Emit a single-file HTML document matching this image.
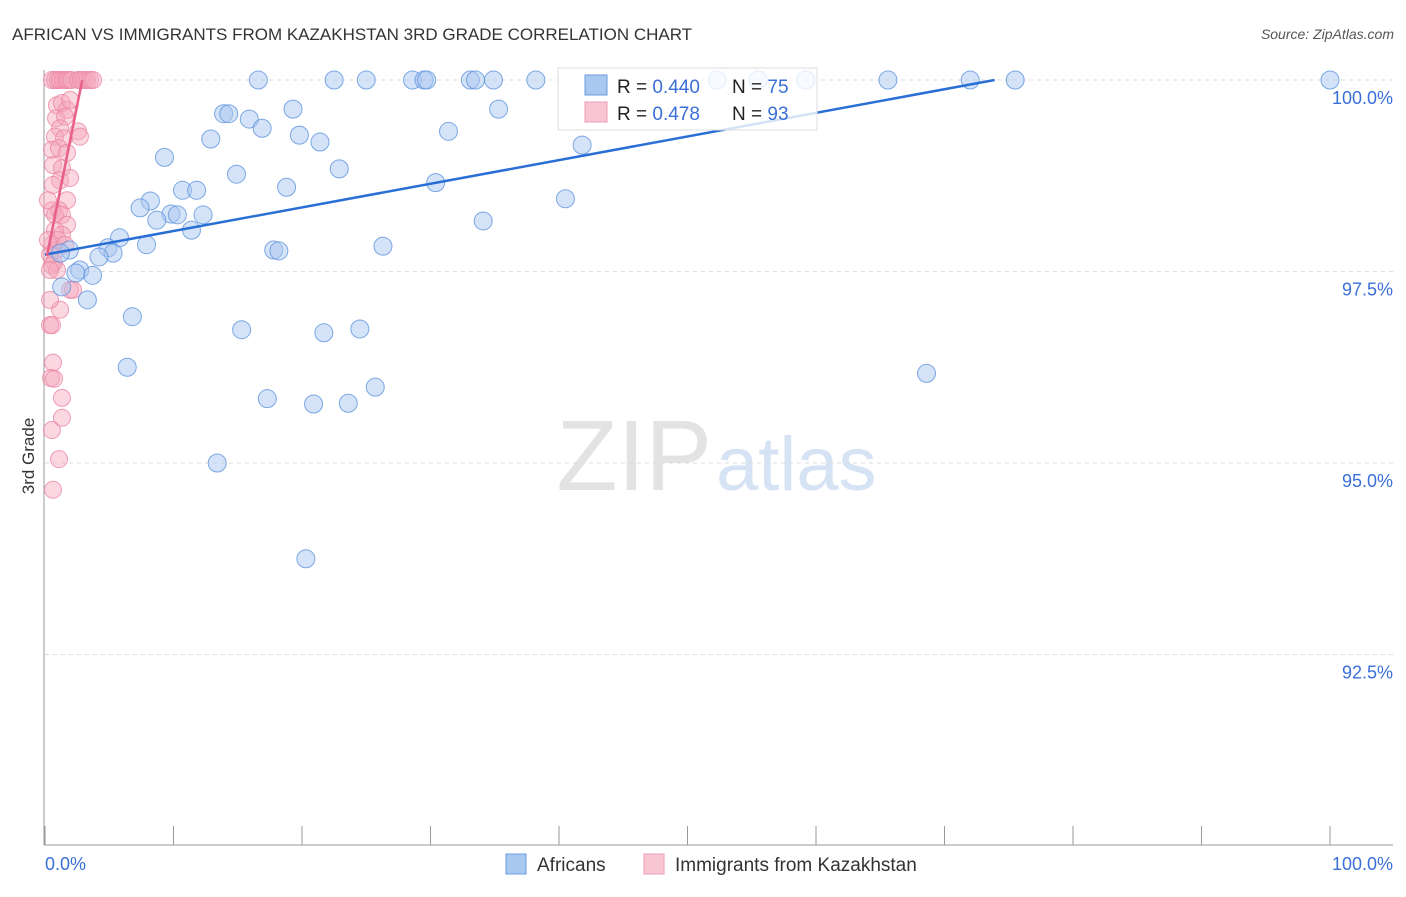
<!DOCTYPE html>
<html><head><meta charset="utf-8"><style>
body{margin:0;background:#fff;font-family:"Liberation Sans",sans-serif}
svg text{font-family:"Liberation Sans",sans-serif}
</style></head><body>
<svg width="1406" height="892" xmlns="http://www.w3.org/2000/svg">
<text x="12" y="40" font-size="17" fill="#333">AFRICAN VS IMMIGRANTS FROM KAZAKHSTAN 3RD GRADE CORRELATION CHART</text>
<text x="1394" y="39" font-size="14" fill="#555" font-style="italic" text-anchor="end">Source: ZipAtlas.com</text>
<text x="712" y="490" font-size="100" fill="#e3e3e3" text-anchor="end" font-family="Liberation Serif">ZIP</text>
<text x="716" y="490" font-size="76" fill="#d5e3f5">atlas</text>
<g id="grid"></g>
<g id="axes"></g>
<g id="pts"></g>
<g id="lines"></g>
<text x="34" y="456" font-size="17" fill="#333" text-anchor="middle" transform="rotate(-90 34 456)">3rd Grade</text>
<g>
<rect x="558" y="68" width="259" height="62" fill="#fff" fill-opacity="0.8" stroke="#ddd"/>
<rect x="585" y="75" width="22" height="20" fill="#a9c8f0" stroke="#6b9be0"/>
<rect x="585" y="102" width="22" height="20" fill="#f8c6d3" stroke="#ee9db4"/>
<text x="617" y="93" font-size="19" fill="#222">R = <tspan fill="#3a6fd8">0.440</tspan></text>
<text x="732" y="93" font-size="19" fill="#222">N = <tspan fill="#3a6fd8">75</tspan></text>
<text x="617" y="120" font-size="19" fill="#222">R = <tspan fill="#3a6fd8"> 0.478</tspan></text>
<text x="732" y="120" font-size="19" fill="#222">N = <tspan fill="#3a6fd8">93</tspan></text>
</g>
<g>
<rect x="506" y="854" width="20" height="20" fill="#a9c8f0" stroke="#6b9be0"/>
<text x="537" y="871" font-size="19" fill="#333">Africans</text>
<rect x="644" y="854" width="20" height="20" fill="#f8c6d3" stroke="#ee9db4"/>
<text x="675" y="871" font-size="19" fill="#333">Immigrants from Kazakhstan</text>
</g>
</svg>
<script>
const blueX=[16.6,22.5,25.0,28.6,29.5,29.7,33.1,33.5,34.9,38.2,42.9,52.3,55.5,59.2,65.6,72.0,75.5,100,13.9,14.3,15.9,16.9,19.3,12.9,19.8,21.4,9.3,14.9,22.9,31.4,35.3,41.8,18.8,10.7,11.8,8.2,7.4,40.5,30.4,9.8,8.7,10.3,12.3,11.4,34.1,5.8,4.9,7.9,5.3,4.2,1.9,1.2,17.8,18.2,26.3,2.7,3.7,2.4,1.3,3.3,6.8,15.3,21.7,24.5,6.4,17.3,20.9,23.6,25.7,13.4,20.3,68.6];
const blueY=[100,100,100,100,100,100,100,100,100,100,99.95,100,100,100,100,100,100,100,99.56,99.56,99.49,99.37,99.62,99.23,99.28,99.19,98.99,98.77,98.84,99.33,99.62,99.15,98.60,98.56,98.56,98.42,98.33,98.45,98.66,98.25,98.17,98.24,98.24,98.04,98.16,97.94,97.81,97.85,97.74,97.69,97.78,97.74,97.78,97.77,97.83,97.52,97.45,97.48,97.30,97.13,96.91,96.74,96.70,96.75,96.25,95.84,95.77,95.78,95.99,95.0,93.75,96.17];
const pinkX=[0.54,0.78,1.0,1.17,1.4,1.63,1.79,2.02,2.57,2.8,3.04,3.27,3.5,3.74,0.93,1.32,1.71,0.86,1.56,1.95,1.17,0.78,1.48,2.57,2.72,0.54,1.09,1.71,0.62,1.32,1.17,0.62,1.71,1.09,0.54,0.78,1.32,1.71,0.78,1.32,0.54,0.86,0.39,0.7,0.54,0.93,1.95,1.17,0.39,0.54,0.62,0.47,0.7,1.32,1.32,0.54,1.09,0.62,0.39,0.23,0.23,0.39,1.0,1.56,1.95,2.18];
const pinkY=[100,100,100,100,100,100,100,100,100,100,100,100,100,100,99.67,99.70,99.61,99.50,99.52,99.74,99.37,99.26,99.24,99.33,99.26,99.09,99.11,99.05,98.89,98.85,98.69,98.63,98.43,98.30,98.30,98.24,98.24,98.11,98.04,97.98,97.85,97.78,97.72,97.62,97.58,97.52,97.26,97.0,96.80,96.80,96.31,96.11,96.10,95.85,95.59,95.43,95.05,94.65,97.13,98.43,97.91,97.52,97.91,97.85,98.72,97.26];
const blueTrend=[[0,97.72],[73.9,100]];
const pinkTrend=[[0.15,97.7],[2.9,100]];
const yTicks=[100,97.5,95,92.5];
const yLabels=["100.0%","97.5%","95.0%","92.5%"];
const NS="http://www.w3.org/2000/svg";
const sx=v=>45+v*12.85, sy=v=>80+(100-v)*76.6;
function mk(t,a,p){const e=document.createElementNS(NS,t);for(const k in a)e.setAttribute(k,a[k]);p.appendChild(e);return e;}
const grid=document.getElementById('grid'),axes=document.getElementById('axes'),pts=document.getElementById('pts'),lines=document.getElementById('lines');
yTicks.forEach((t,i)=>{
 const l=mk('line',{x1:45,x2:1393,y1:sy(t),y2:sy(t),stroke:'#ddd','stroke-dasharray':'4 4'},grid);
 
 
 const tx=mk('text',{x:1393,y:sy(t)+24,'font-size':18,fill:'#3a6fd8','text-anchor':'end'},axes);tx.textContent=yLabels[i];
 
 
});
mk('line',{x1:44,x2:44,y1:70,y2:845,stroke:'#999'},axes);
mk('line',{x1:44,x2:1393,y1:845,y2:845,stroke:'#999'},axes);
for(let i=0;i<=10;i++){const l=mk('line',{x1:sx(i*10),x2:sx(i*10),y1:826,y2:845,stroke:'#999'},axes);
 
 }
const a=mk('text',{x:45,y:870,'font-size':18,fill:'#3a6fd8'},axes);a.textContent='0.0%';


const b=mk('text',{x:1393,y:870,'font-size':18,fill:'#3a6fd8','text-anchor':'end'},axes);b.textContent='100.0%';


pinkX.forEach((x,i)=>{const c=mk('circle',{cx:sx(x),cy:sy(pinkY[i]),r:8.5,fill:'#f4a6bd','fill-opacity':0.45,stroke:'#ec86a5','stroke-opacity':0.8},pts);
 
 });
blueX.forEach((x,i)=>{const c=mk('circle',{cx:sx(x),cy:sy(blueY[i]),r:9,fill:'#a9c8f0','fill-opacity':0.5,stroke:'#5f93de','stroke-opacity':0.8},pts);
 
 });
const bl=mk('line',{x1:sx(blueTrend[0][0]),y1:sy(blueTrend[0][1]),x2:sx(blueTrend[1][0]),y2:sy(blueTrend[1][1]),stroke:'#2a6fd6','stroke-width':2.5},lines);


const pl=mk('line',{x1:sx(pinkTrend[0][0]),y1:sy(pinkTrend[0][1]),x2:sx(pinkTrend[1][0]),y2:sy(pinkTrend[1][1]),stroke:'#e8608a','stroke-width':2.5},lines);


</script>
</body></html>
